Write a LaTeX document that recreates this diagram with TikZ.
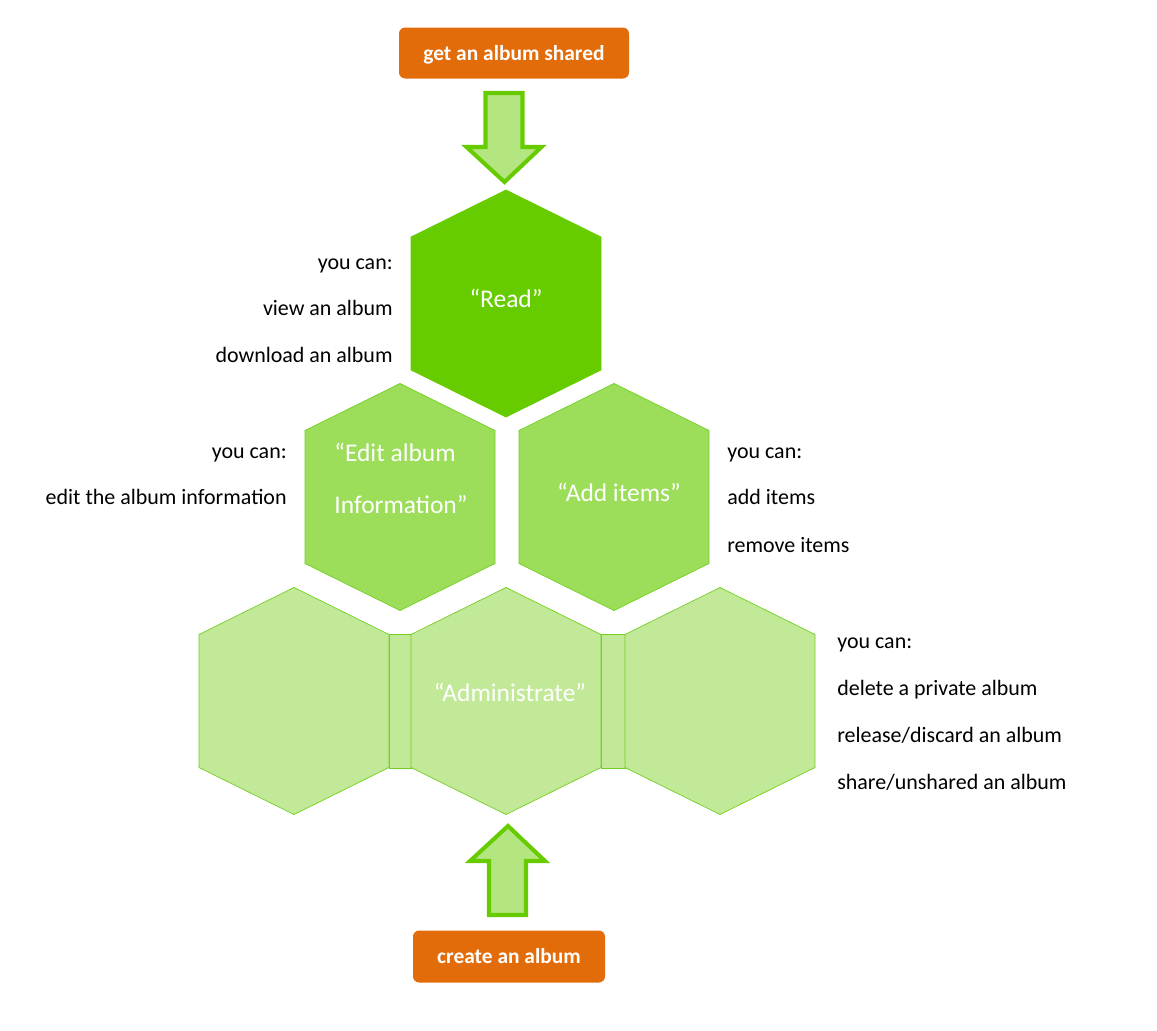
\documentclass[tikz,border=0pt]{standalone}
\usepackage{fontspec}
\setmainfont{Carlito}

\definecolor{readgreen}{HTML}{66CC00}
\definecolor{editgreen}{HTML}{9CDE5A}
\definecolor{admingreen}{HTML}{C2E998}
\definecolor{arrowgreen}{HTML}{B3E681}
\definecolor{linegreen}{HTML}{74CF22}
\definecolor{boxorange}{HTML}{E36C0A}

\begin{document}
\begin{tikzpicture}[x=0.02cm,y=-0.02cm,
  hexa/.pic={\draw[pic actions] (0,-113.5) -- (95,-66.5) -- (95,66.5) -- (0,113.5) -- (-95,66.5) -- (-95,-66.5) -- cycle;},
  hexlabel/.style={text=white,font=\fontsize{14.5}{29.6}\selectfont,inner sep=0pt},
  cantext/.style={font=\fontsize{12.5}{15}\selectfont,inner sep=0pt},
  orangebox/.style={fill=boxorange,text=white,rounded corners=3.5pt,font=\bfseries\fontsize{12.2}{15}\selectfont,inner sep=0pt,text height=10.2pt,text depth=2pt},
  blockarrow/.style={draw=readgreen,fill=arrowgreen,line width=2.3pt,line join=miter}]

\useasboundingbox (0,0) rectangle (1157,1031);

% orange boxes
\node[orangebox,minimum width=230*0.02cm,minimum height=51*0.02cm] (shared) at (514,53) {get an album shared};
\node[orangebox,minimum width=192*0.02cm,minimum height=52*0.02cm] (create) at (509,956.5) {create an album};

% block arrows
\coordinate (downtip) at (504.5,182);
\coordinate (uptip) at (508,826);
\draw[blockarrow] (downtip) -- ++(-38,-35) -- ++(19,0) -- ++(0,-54) -- ++(37,0) -- ++(0,54) -- ++(19,0) -- cycle;
\draw[blockarrow] (uptip) -- ++(-38,35) -- ++(19,0) -- ++(0,54) -- ++(37,0) -- ++(0,-54) -- ++(19,0) -- cycle;

% hexagons
\pic[fill=readgreen,draw=readgreen] at (506,303.5) {hexa};
\pic[fill=editgreen,draw=linegreen,thin] at (400,497) {hexa};
\pic[fill=editgreen,draw=linegreen,thin] at (614,497) {hexa};

\draw[fill=admingreen,draw=linegreen,thin] (389,634) rectangle (411,768);
\draw[fill=admingreen,draw=linegreen,thin] (601,634) rectangle (625,768);
\pic[fill=admingreen,draw=linegreen,thin] at (294,701) {hexa};
\pic[fill=admingreen,draw=linegreen,thin] at (506,701) {hexa};
\pic[fill=admingreen,draw=linegreen,thin] at (720,701) {hexa};

\node[hexlabel] (read) at (506,298) {“Read”};
\node[hexlabel,align=left,anchor=west] (edit) at (334,478) {“Edit album\\Information”};
\node[hexlabel] (add) at (619,492) {“Add items”};
\node[hexlabel] (admin) at (510,692) {“Administrate”};

% read
\node[cantext,anchor=base east] (readcan) at (393,269) {you can:};
\node[cantext,anchor=base east] (readview) at (393,315) {view an album};
\node[cantext,anchor=base east] (readload) at (393,362) {download an album};

% edit
\node[cantext,anchor=base east] (editcan) at (287,458) {you can:};
\node[cantext,anchor=base east] (editinfo) at (287,504) {edit the album information};

% add
\node[cantext,anchor=base west] (addcan) at (727,458) {you can:};
\node[cantext,anchor=base west] (additems) at (727,504) {add items};
\node[cantext,anchor=base west] (addremove) at (727,552) {remove items};

% administrate
\node[cantext,anchor=base west] (admincan) at (837,648) {you can:};
\node[cantext,anchor=base west] (admindelete) at (837,695) {delete a private album};
\node[cantext,anchor=base west] (adminrelease) at (837,742) {release/discard an album};
\node[cantext,anchor=base west] (adminshare) at (837,789) {share/unshared an album};

\end{tikzpicture}
\end{document}
